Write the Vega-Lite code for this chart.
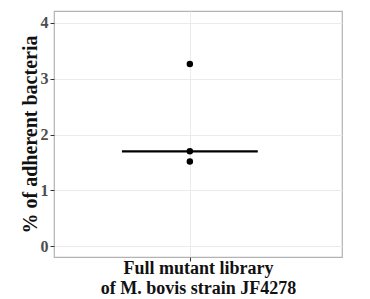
{
  "$schema": "https://vega.github.io/schema/vega-lite/v6.json",
  "width": 288,
  "height": 246,
  "autosize": {"type": "none"},
  "padding": {"left": 54, "top": 11, "right": 28, "bottom": 42},
  "background": "white",
  "config": {
    "font": "Liberation Serif",
    "view": {"stroke": "#b3b3b3", "strokeWidth": 1.2}
  },
  "data": {
    "values": [
      {"group": 1, "value": 3.26},
      {"group": 1, "value": 1.70},
      {"group": 1, "value": 1.52}
    ]
  },
  "layer": [
    {
      "mark": {"type": "point", "filled": true, "color": "black", "opacity": 1, "size": 42},
      "encoding": {
        "x": {
          "field": "group",
          "type": "quantitative",
          "scale": {"domain": [0, 2.12], "nice": false, "zero": false},
          "axis": {
            "values": [1],
            "labels": false,
            "grid": true,
            "gridColor": "#ebebeb",
            "domain": false,
            "tickColor": "#333333",
            "tickSize": 4,
            "title": ["Full mutant library", "of M. bovis strain JF4278"],
            "titleFont": "Liberation Serif",
            "titleFontSize": 18,
            "titleFontWeight": "bold",
            "titleColor": "#111111",
            "titlePadding": -2,
            "titleLineHeight": 20
          }
        },
        "y": {
          "field": "value",
          "type": "quantitative",
          "scale": {"domain": [-0.19, 4.21], "nice": false, "zero": false},
          "axis": {
            "values": [0, 0.5, 1, 1.5, 2, 2.5, 3, 3.5, 4],
            "labelExpr": "datum.value % 1 == 0 ? format(datum.value, 'd') : ''",
            "grid": true,
            "gridColor": "#ebebeb",
            "domain": false,
            "tickColor": "#333333",
            "tickOpacity": {"condition": {"test": "datum.value % 1 != 0", "value": 0}, "value": 1},
            "tickSize": 4,
            "labelFont": "Liberation Serif",
            "labelFontSize": 16,
            "labelFontWeight": "bold",
            "labelColor": "#4d4d4d",
            "labelPadding": 2,
            "title": "% of adherent bacteria",
            "titleFont": "Liberation Serif",
            "titleFontSize": 20,
            "titleFontWeight": "bold",
            "titleColor": "#111111",
            "titlePadding": 0
          }
        }
      }
    },
    {
      "transform": [{"aggregate": [{"op": "median", "field": "value", "as": "med"}]}],
      "mark": {"type": "rule", "color": "black", "strokeWidth": 2.2},
      "encoding": {
        "x": {"datum": 0.5, "type": "quantitative"},
        "x2": {"datum": 1.5},
        "y": {"field": "med", "type": "quantitative"}
      }
    }
  ]
}
